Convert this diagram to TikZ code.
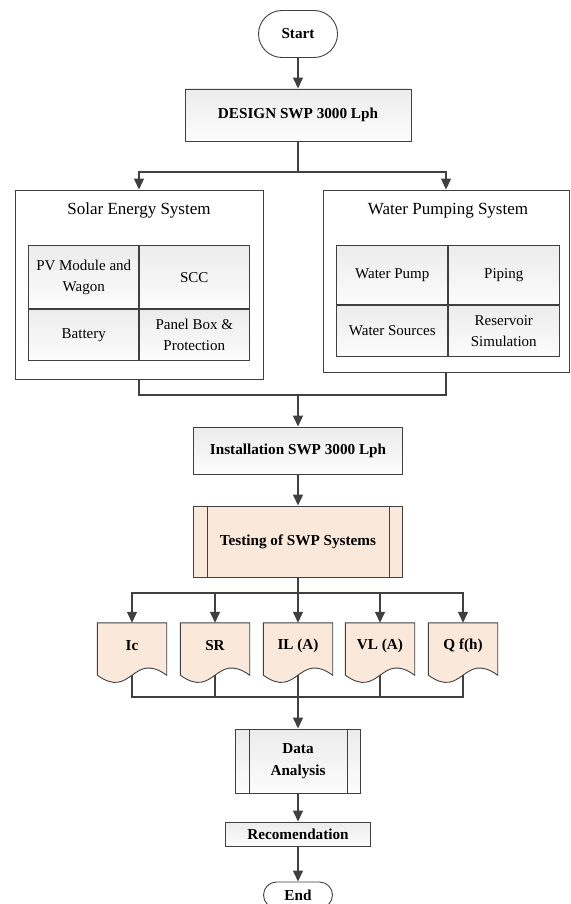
\documentclass[tikz,border=0pt]{standalone}
\usepackage{fontspec}
\setmainfont{Liberation Serif}
\usepackage{tikz}
\usetikzlibrary{arrows.meta, positioning, shapes.misc, calc, matrix, backgrounds}
\definecolor{lineclr}{RGB}{64,64,64}
\definecolor{peach}{RGB}{250,232,218}

\begin{document}
\begin{tikzpicture}[
    x=1pt, y=-1pt,
    bold/.style={font=\fontsize{15.2}{22}\selectfont\bfseries},
    plain/.style={font=\fontsize{15}{21}\selectfont},
    title/.style={font=\fontsize{17}{20}\selectfont},
    box/.style={draw=lineclr, line width=0.9pt, top color=gray!15, bottom color=gray!2, bold, align=center, inner sep=0pt},
    terminal/.style={box, rounded rectangle, top color=white, bottom color=white},
    process/.style={box},
    group/.style={draw=lineclr, line width=0.9pt, fill=white, inner sep=0pt},
    doc/.style={bold, inner sep=0pt, minimum width=69pt, minimum height=46pt},
    docshape/.style={draw=lineclr, line width=0.9pt, fill=peach},
    cell/.style={draw=lineclr, line width=0.9pt, top color=gray!15, bottom color=gray!2, plain, align=center, inner sep=0pt},
    gridstyle/.style={ampersand replacement=\&, nodes={cell}, row sep=-\pgflinewidth, column sep=-\pgflinewidth},
    link/.style={draw=lineclr, line width=1.3pt},
    arrow/.style={link, -{Triangle[length=11pt, width=10pt]}}
]
\useasboundingbox (0,0) rectangle (570,904);

% Start and design
\node[terminal, minimum width=79pt, minimum height=47pt] (start) at (298,34) {Start};
\node[box, minimum width=226pt, minimum height=52pt] (design) at (298,115) {DESIGN SWP 3000 Lph};
\coordinate (fork) at (298,172);

% Solar energy system - outer box and 2x2 grid
\node[group, minimum width=248pt, minimum height=189pt] (solar) at (139,284.5) {};
\node[title] (solartitle) at ($(solar.north)+(0,21)$) {Solar Energy System};
\matrix[gridstyle, nodes={minimum width=110pt}, row 1/.style={nodes={minimum height=63pt}}, row 2/.style={nodes={minimum height=51pt}}] (solargrid) at (139,303) {
 \node (pv) {PV Module and\\Wagon}; \& \node (scc) {SCC}; \\
 \node (battery) {Battery}; \& \node (panel) {Panel Box \char`\&\\Protection}; \\
};

% Water pumping system - outer box and 2x2 grid
\node[group, minimum width=246pt, minimum height=182pt] (water) at (446,281) {};
\node[title] (watertitle) at ($(water.north)+(2,21)$) {Water Pumping System};
\matrix[gridstyle, nodes={minimum width=111pt}, row 1/.style={nodes={minimum height=59pt}}, row 2/.style={nodes={minimum height=51pt}}] (watergrid) at (448,301) {
 \node (pump) {Water Pump}; \& \node (piping) {Piping}; \\
 \node (sources) {Water Sources}; \& \node (reservoir) {Reservoir\\Simulation}; \\
};
\coordinate (merge) at (298,395);

% Installation and testing
\node[box, minimum width=209pt, minimum height=47pt] (install) at (298,450.5) {Installation SWP 3000 Lph};
\node[process, top color=peach, bottom color=peach, minimum width=209pt, minimum height=71pt] (testing) at (298,541.5) {Testing of SWP Systems};
\coordinate (split) at (298,593);

% Measured data - document shapes
\foreach \name/\x/\txt in {ic/132/Ic, sr/215/SR, il/298/IL (A), vl/380/VL (A), qf/463/Q f(h)}
  \node[doc] (\name) at (\x,646) {\txt};
\begin{scope}[on background layer]
\foreach \name in {ic, sr, il, vl, qf}
  \path[docshape] (\name.north west) -- (\name.north east) -- ([yshift=-6pt]\name.south east)
    .. controls ([yshift=19pt]\name.south) and ([yshift=-31pt]\name.south) .. ([yshift=-6pt]\name.south west) -- cycle;
\end{scope}
\coordinate (gather) at (298,697);

% Analysis, recommendation and end
\node[process, minimum width=125pt, minimum height=64pt] (analysis) at (298,761) {Data\\Analysis};
\node[box, minimum width=145pt, minimum height=24pt] (recom) at (298,834) {Recomendation};
\node[terminal, minimum width=69pt, minimum height=26pt] (end) at (298,895) {End};

% inner bars of the process boxes
\foreach \name in {testing, analysis}
  \draw[lineclr, line width=0.9pt] ([xshift=14pt]\name.north west) -- ([xshift=14pt]\name.south west)
    ([xshift=-14pt]\name.north east) -- ([xshift=-14pt]\name.south east);

% Connectors
\draw[arrow] (start.south) -- (design.north);
\draw[link] (design.south) -- (fork);
\draw[arrow] (fork) -| (solar.north);
\draw[arrow] (fork) -| (water.north);
\draw[link] (solar.south) |- (merge);
\draw[link] (water.south) |- (merge);
\draw[arrow] (merge) -- (install.north);
\draw[arrow] (install.south) -- (testing.north);
\draw[link] (testing.south) -- (split);
\foreach \name in {ic, sr, il, vl, qf}
  \draw[arrow] (split) -| (\name.north);
\foreach \name in {ic, sr, il, vl, qf}
  \draw[link] ([yshift=-6pt]\name.south) |- (gather);
\draw[arrow] (gather) -- (analysis.north);
\draw[arrow] (analysis.south) -- (recom.north);
\draw[arrow] (recom.south) -- (end.north);
\end{tikzpicture}
\end{document}
